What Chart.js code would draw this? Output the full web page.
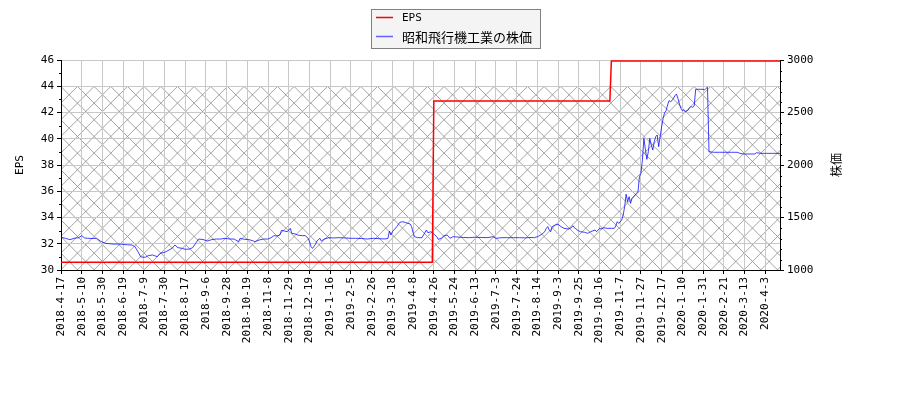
<!DOCTYPE html>
<html lang="ja">
<head>
<meta charset="UTF-8">
<title>EPS と株価</title>
<script src="https://cdn.jsdelivr.net/npm/chart.js"></script>
<style>
  html, body { margin: 0; padding: 0; background: #fff; }
  #wrap { width: 900px; height: 400px; }
</style>
</head>
<body>
<div id="wrap"><canvas id="myChart" width="900" height="400"></canvas></div>

<script>
// tick labels, one every 14 trading days
const dateLabels = ['2018-4-17','2018-5-10','2018-5-30','2018-6-19','2018-7-9','2018-7-30','2018-8-17',
  '2018-9-6','2018-9-28','2018-10-19','2018-11-8','2018-11-29','2018-12-19','2019-1-16','2019-2-5',
  '2019-2-26','2019-3-18','2019-4-8','2019-4-26','2019-5-24','2019-6-13','2019-7-3','2019-7-24',
  '2019-8-14','2019-9-3','2019-9-25','2019-10-16','2019-11-7','2019-11-27','2019-12-17','2020-1-10',
  '2020-1-31','2020-2-21','2020-3-13','2020-4-3'];

// EPS (trading day index -> value)
const epsDay = [0, 251, 252, 371, 372, 486];
const epsVal = [30.6, 30.6, 42.88, 42.88, 45.92, 45.92];

// 株価 (trading day index -> price)
const priceDay = [0,3,6,9,12,14,16,18,21,24,27,30,33,36,39,42,45,48,50,52,54,57,59,62,65,67,70,73,75,77,79,82,84,87,89,91,93,96,99,
  102,105,108,111,114,117,120,121,124,127,130,131,134,137,140,142,144,146,148,149,151,153,155,156,158,160,163,165,167,168,169,170,172,173,175,176,178,181,184,188,192,196,
  199,203,207,211,215,219,221,222,223,224,227,229,231,233,236,237,238,239,241,244,245,247,248,250,251,254,255,257,259,261,263,265,268,272,276,280,284,288,292,294,
  298,302,306,310,314,317,320,322,323,325,327,328,329,330,331,332,334,336,338,340,343,345,346,347,349,351,354,356,358,361,362,364,365,367,369,372,374,375,376,377,379,380,381,382,383,384,385,386,388,389,390,391,392,393,
  394,395,396,397,398,399,400,401,402,403,404,405,406,407,408,409,410,411,412,413,414,415,416,417,418,419,420,421,422,424,425,426,427,428,429,432,434,435,436,437,438,441,445,449,453,457,459,461,465,469,470,473,477,481,486];
const priceVal = [1311,1302,1289,1302,1308,1327,1305,1302,1300,1302,1272,1254,1250,1246,1248,1244,1240,1238,1222,1175,1124,1121,1137,1143,1127,1159,1168,1190,1206,1238,1213,1206,1197,1200,1213,1254,1295,1290,1276,
  1290,1295,1295,1302,1295,1295,1270,1302,1292,1290,1276,1270,1286,1295,1295,1308,1327,1324,1333,1378,1371,1365,1397,1349,1345,1333,1327,1328,1302,1270,1222,1206,1244,1276,1302,1276,1295,1308,1305,1308,1305,1302,
  1302,1300,1295,1302,1298,1296,1300,1371,1333,1365,1413,1454,1460,1451,1438,1413,1355,1317,1308,1308,1333,1381,1355,1365,1355,1317,1292,1302,1327,1333,1302,1317,1314,1310,1308,1312,1310,1308,1317,1302,
  1308,1308,1308,1308,1306,1310,1308,1317,1324,1340,1365,1397,1413,1381,1365,1413,1429,1435,1413,1397,1390,1403,1422,1403,1381,1365,1359,1349,1365,1381,1365,1397,1390,1403,1397,1397,1397,1419,1460,1444,1476,1524,1603,1721,1651,1698,1635,1683,1714,1730,1746,1889,1921,2048,
  2254,2150,2054,2127,2254,2190,2143,2222,2270,2286,2175,2270,2365,2444,2498,2517,2571,2613,2603,2613,2635,2660,2676,2635,2581,2540,2517,2524,2505,2524,2549,2556,2549,2562,2721,2721,2721,2714,2730,2740,2127,2121,2121,2121,2121,2121,2111,2105,2105,2105,2117,2111,2111,2111,2111];

const hatchTop = 44;   // hatched band goes from the bottom up to this EPS level

const monoFont = '"DejaVu Sans Mono", "Noto Sans CJK JP", monospace';
const jpFont = '"Noto Sans CJK JP", "DejaVu Sans", sans-serif';

const decor = {
    id: 'decor',
    beforeDraw(chart) {
        const { ctx, chartArea: a, scales } = chart;
        ctx.save();
        ctx.fillStyle = '#fff';
        ctx.fillRect(0, 0, chart.width, chart.height);

        // cross hatch
        const top = scales.y.getPixelForValue(hatchTop);
        const h = a.bottom - top;
        const step = 100 / 6;
        ctx.beginPath();
        ctx.rect(a.left, top, a.right - a.left, h);
        ctx.clip();
        ctx.strokeStyle = '#8c8c8c';
        ctx.lineWidth = 0.8;
        ctx.beginPath();
        for (let x0 = a.left - h - step; x0 < a.right + step; x0 += step) {
            ctx.moveTo(x0, a.bottom); ctx.lineTo(x0 + h, top);
            ctx.moveTo(x0, top); ctx.lineTo(x0 + h, a.bottom);
        }
        ctx.stroke();
        ctx.restore();
    },
    afterDraw(chart) {
        const { ctx, chartArea: a, scales } = chart;
        ctx.save();

        // minor ticks
        ctx.strokeStyle = '#000';
        ctx.lineWidth = 1;
        ctx.beginPath();
        for (let v = 31; v < 46; v += 2) {
            const y = Math.round(scales.y.getPixelForValue(v)) + 0.5;
            ctx.moveTo(a.left - 2, y); ctx.lineTo(a.left, y);
        }
        for (let v = 1100; v < 3000; v += 100) {
            if (v % 500 === 0) continue;
            const y = Math.round(scales.y2.getPixelForValue(v)) + 0.5;
            ctx.moveTo(a.right, y); ctx.lineTo(a.right + 2, y);
        }
        ctx.stroke();

        // axis titles
        const midY = (a.top + a.bottom) / 2;
        ctx.fillStyle = '#000';
        ctx.textAlign = 'center';
        ctx.textBaseline = 'middle';
        ctx.save();
        ctx.translate(20, midY);
        ctx.rotate(-Math.PI / 2);
        ctx.font = '11px ' + monoFont;
        ctx.fillText('EPS', 0, 0);
        ctx.restore();
        ctx.save();
        ctx.translate(836, midY);
        ctx.rotate(-Math.PI / 2);
        ctx.font = '12px ' + jpFont;
        ctx.fillText('株価', 0, 0);
        ctx.restore();

        // legend
        ctx.fillStyle = '#f4f4f4';
        ctx.fillRect(371.5, 9.5, 169, 39);
        ctx.strokeStyle = '#808080';
        ctx.strokeRect(371.5, 9.5, 169, 39);
        const items = chart.data.datasets;
        const rows = [17.5, 36.5];
        items.forEach((ds, i) => {
            ctx.strokeStyle = i === 0 ? '#ff0000' : 'rgba(0,0,255,0.6)';
            ctx.lineWidth = 1.5;
            ctx.beginPath();
            ctx.moveTo(376, rows[i]); ctx.lineTo(393, rows[i]);
            ctx.stroke();
            ctx.fillStyle = '#000';
            ctx.textAlign = 'left';
            ctx.textBaseline = 'middle';
            ctx.font = i === 0 ? '11px ' + monoFont : '13px ' + jpFont;
            ctx.fillText(ds.label, 402, rows[i] + 1);
        });
        ctx.restore();
    }
};

const tickFont = { family: monoFont, size: 11 };

const ctx = document.getElementById('myChart').getContext('2d');
const myChart = new Chart(ctx, {
    type: 'line',
    data: {
        datasets: [{
            label: 'EPS',
            data: epsDay.map((d, i) => ({ x: d, y: epsVal[i] })),
            borderColor: '#ff0000',
            borderWidth: 1.5,
            pointRadius: 0,
            yAxisID: 'y'
        }, {
            label: '昭和飛行機工業の株価',
            data: priceDay.map((d, i) => ({ x: d, y: priceVal[i] })),
            borderColor: 'rgba(0,0,255,0.75)',
            borderWidth: 1,
            pointRadius: 0,
            yAxisID: 'y2'
        }]
    },
    options: {
        responsive: false,
        animation: false,
        layout: { padding: { top: 60, left: 0, right: 0, bottom: 0 } },
        plugins: { legend: { display: false }, tooltip: { enabled: false } },
        scales: {
            x: {
                type: 'linear',
                min: 0,
                max: 486,
                afterFit: s => { s.height = 130; },
                border: { color: '#000' },
                grid: { color: '#c8c8c8', tickColor: '#000', tickLength: 4 },
                ticks: {
                    stepSize: 14,
                    includeBounds: false,
                    autoSkip: false,
                    maxRotation: 90,
                    minRotation: 90,
                    padding: 3,
                    color: '#000',
                    font: tickFont,
                    callback: v => dateLabels[v / 14] ?? ''
                }
            },
            y: {
                position: 'left',
                min: 30,
                max: 46,
                afterFit: s => { s.width = 61; },
                border: { color: '#000' },
                grid: { color: '#c8c8c8', tickColor: '#000', tickLength: 4 },
                ticks: { stepSize: 2, padding: 3, color: '#000', font: tickFont, callback: v => String(v) }
            },
            y2: {
                position: 'right',
                min: 1000,
                max: 3000,
                afterFit: s => { s.width = 120; },
                border: { color: '#000' },
                grid: { drawOnChartArea: false, tickColor: '#000', tickLength: 4 },
                ticks: { stepSize: 500, padding: 3, color: '#000', font: tickFont, callback: v => String(v) }
            }
        }
    },
    plugins: [decor]
});
</script>
</body>
</html>
